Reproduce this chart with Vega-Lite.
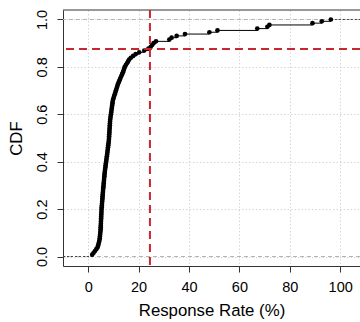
{
  "$schema": "https://vega.github.io/schema/vega-lite/v6.json",
  "width": 297,
  "height": 256,
  "autosize": {"type": "none"},
  "padding": {"left": 63, "top": 10, "right": 0, "bottom": 56},
  "background": "white",
  "config": {
    "view": {"stroke": null},
    "font": "Liberation Sans",
    "axis": {
      "labelFont": "Liberation Sans",
      "titleFont": "Liberation Sans",
      "labelColor": "black",
      "titleColor": "black",
      "titleFontWeight": "normal",
      "domainColor": "#333333",
      "tickColor": "#333333",
      "tickSize": 6,
      "labelFontSize": 14.5,
      "titleFontSize": 16.8,
      "gridColor": "#d6d6d6",
      "gridDash": [1.5, 2]
    }
  },
  "datasets": {
    "ecdf": [
      {"x": 1.58, "p": 0.0077}, {"x": 2.16, "p": 0.0154}, {"x": 2.70, "p": 0.0231}, {"x": 3.20, "p": 0.0308}, {"x": 3.70, "p": 0.0385},
      {"x": 3.94, "p": 0.0462}, {"x": 4.12, "p": 0.0538}, {"x": 4.30, "p": 0.0615}, {"x": 4.48, "p": 0.0692}, {"x": 4.57, "p": 0.0769},
      {"x": 4.65, "p": 0.0846}, {"x": 4.72, "p": 0.0923}, {"x": 4.80, "p": 0.1}, {"x": 4.88, "p": 0.1077}, {"x": 4.92, "p": 0.1154},
      {"x": 4.96, "p": 0.1231}, {"x": 4.99, "p": 0.1308}, {"x": 5.03, "p": 0.1385}, {"x": 5.06, "p": 0.1462}, {"x": 5.09, "p": 0.1538},
      {"x": 5.13, "p": 0.1615}, {"x": 5.16, "p": 0.1692}, {"x": 5.20, "p": 0.1769}, {"x": 5.23, "p": 0.1846}, {"x": 5.27, "p": 0.1923},
      {"x": 5.30, "p": 0.2}, {"x": 5.36, "p": 0.2077}, {"x": 5.42, "p": 0.2154}, {"x": 5.47, "p": 0.2231}, {"x": 5.53, "p": 0.2308},
      {"x": 5.59, "p": 0.2385}, {"x": 5.65, "p": 0.2462}, {"x": 5.70, "p": 0.2538}, {"x": 5.76, "p": 0.2615}, {"x": 5.82, "p": 0.2692},
      {"x": 5.88, "p": 0.2769}, {"x": 5.94, "p": 0.2846}, {"x": 6.01, "p": 0.2923}, {"x": 6.08, "p": 0.3}, {"x": 6.14, "p": 0.3077},
      {"x": 6.21, "p": 0.3154}, {"x": 6.28, "p": 0.3231}, {"x": 6.34, "p": 0.3308}, {"x": 6.41, "p": 0.3385}, {"x": 6.48, "p": 0.3462},
      {"x": 6.55, "p": 0.3538}, {"x": 6.62, "p": 0.3615}, {"x": 6.72, "p": 0.3692}, {"x": 6.82, "p": 0.3769}, {"x": 6.92, "p": 0.3846},
      {"x": 7.01, "p": 0.3923}, {"x": 7.11, "p": 0.4}, {"x": 7.21, "p": 0.4077}, {"x": 7.31, "p": 0.4154}, {"x": 7.41, "p": 0.4231},
      {"x": 7.51, "p": 0.4308}, {"x": 7.60, "p": 0.4385}, {"x": 7.69, "p": 0.4462}, {"x": 7.78, "p": 0.4538}, {"x": 7.87, "p": 0.4615},
      {"x": 7.96, "p": 0.4692}, {"x": 8.05, "p": 0.4769}, {"x": 8.14, "p": 0.4846}, {"x": 8.21, "p": 0.4923}, {"x": 8.26, "p": 0.5},
      {"x": 8.30, "p": 0.5077}, {"x": 8.35, "p": 0.5154}, {"x": 8.40, "p": 0.5231}, {"x": 8.44, "p": 0.5308}, {"x": 8.49, "p": 0.5385},
      {"x": 8.53, "p": 0.5462}, {"x": 8.58, "p": 0.5538}, {"x": 8.62, "p": 0.5615}, {"x": 8.67, "p": 0.5692}, {"x": 8.72, "p": 0.5769},
      {"x": 8.82, "p": 0.5846}, {"x": 8.92, "p": 0.5923}, {"x": 9.02, "p": 0.6}, {"x": 9.12, "p": 0.6077}, {"x": 9.22, "p": 0.6154},
      {"x": 9.32, "p": 0.6231}, {"x": 9.42, "p": 0.6308}, {"x": 9.52, "p": 0.6385}, {"x": 9.62, "p": 0.6462}, {"x": 9.72, "p": 0.6538},
      {"x": 9.85, "p": 0.6615}, {"x": 10.08, "p": 0.6692}, {"x": 10.31, "p": 0.6769}, {"x": 10.54, "p": 0.6846}, {"x": 10.77, "p": 0.6923},
      {"x": 11.00, "p": 0.7}, {"x": 11.23, "p": 0.7077}, {"x": 11.46, "p": 0.7154}, {"x": 11.69, "p": 0.7231}, {"x": 11.93, "p": 0.7308},
      {"x": 12.24, "p": 0.7385}, {"x": 12.55, "p": 0.7462}, {"x": 12.85, "p": 0.7538}, {"x": 13.16, "p": 0.7615}, {"x": 13.47, "p": 0.7692},
      {"x": 13.78, "p": 0.7769}, {"x": 14.04, "p": 0.7846}, {"x": 14.27, "p": 0.7923}, {"x": 14.50, "p": 0.8}, {"x": 14.94, "p": 0.8077},
      {"x": 15.38, "p": 0.8154}, {"x": 15.82, "p": 0.8231}, {"x": 16.26, "p": 0.8308}, {"x": 16.91, "p": 0.8385}, {"x": 17.82, "p": 0.8462},
      {"x": 18.83, "p": 0.8538}, {"x": 20.23, "p": 0.8615}, {"x": 22.27, "p": 0.8692}, {"x": 23.88, "p": 0.8769}, {"x": 24.83, "p": 0.8846},
      {"x": 25.39, "p": 0.8923}, {"x": 25.94, "p": 0.9}, {"x": 26.9, "p": 0.9077}, {"x": 32.2, "p": 0.9154}, {"x": 33.1, "p": 0.9231},
      {"x": 35.1, "p": 0.9308}, {"x": 38.4, "p": 0.9385}, {"x": 48.1, "p": 0.9462}, {"x": 51.3, "p": 0.9538}, {"x": 67.1, "p": 0.9615},
      {"x": 71.1, "p": 0.9692}, {"x": 71.9, "p": 0.9769}, {"x": 89.0, "p": 0.9846}, {"x": 92.7, "p": 0.9923}, {"x": 96.3, "p": 1.0}
    ],
    "bounds": [{"h": 0}, {"h": 1}],
    "ext": [{"a": -10, "b": 1.58, "h": 0}, {"a": 96.3, "b": 107.86, "h": 1}],
    "one": [{"k": 1}]
  },
  "layer": [
    {
      "data": {"name": "ecdf"},
      "mark": {"type": "line", "interpolate": "step-after", "color": "black", "strokeWidth": 1},
      "encoding": {
        "x": {
          "field": "x", "type": "quantitative", "title": "Response Rate (%)",
          "scale": {"domain": [-10, 107.86], "nice": false, "zero": false},
          "axis": {
            "title": "Response Rate (%)",
            "values": [0, 20, 40, 60, 80, 100],
            "labelBaseline": "alphabetic",
            "labelPadding": 19.5,
            "titleBaseline": "alphabetic",
            "titleY": 49.5,
            "grid": true
          }
        },
        "y": {
          "field": "p", "type": "quantitative", "title": "CDF",
          "scale": {"domain": [-0.04, 1.04], "nice": false, "zero": false},
          "axis": {
            "title": "CDF",
            "values": [0, 0.2, 0.4, 0.6, 0.8, 1.0],
            "format": ".1f",
            "labelAngle": 270,
            "labelAlign": "center",
            "labelBaseline": "alphabetic",
            "labelPadding": 10.3,
            "titleAngle": 270,
            "titleAlign": "center",
            "titleBaseline": "alphabetic",
            "titleX": -41.3,
            "titleY": 128,
            "grid": true
          }
        }
      }
    },
    {
      "data": {"name": "bounds"},
      "mark": {"type": "rule", "color": "#b3b3b3", "strokeWidth": 1, "strokeDash": [4, 3]},
      "encoding": {
        "y": {"field": "h", "type": "quantitative", "title": "CDF"}
      }
    },
    {
      "data": {"name": "ext"},
      "mark": {"type": "rule", "color": "#444444", "strokeWidth": 1, "strokeDash": [2, 2]},
      "encoding": {
        "x": {"field": "a", "type": "quantitative", "title": "Response Rate (%)"},
        "x2": {"field": "b"},
        "y": {"field": "h", "type": "quantitative", "title": "CDF"}
      }
    },
    {
      "data": {"name": "one"},
      "mark": {"type": "rule", "color": "#333333", "strokeWidth": 1},
      "encoding": {
        "y": {"datum": 1.04, "type": "quantitative"}
      }
    },
    {
      "data": {"name": "ecdf"},
      "mark": {"type": "point", "filled": true, "color": "black", "opacity": 1, "size": 22},
      "encoding": {
        "x": {"field": "x", "type": "quantitative", "title": "Response Rate (%)"},
        "y": {"field": "p", "type": "quantitative", "title": "CDF"}
      }
    },
    {
      "data": {"name": "one"},
      "mark": {"type": "rule", "color": "#c8282d", "strokeWidth": 2, "strokeDash": [8, 5]},
      "encoding": {
        "x": {"datum": 24.5, "type": "quantitative"}
      }
    },
    {
      "data": {"name": "one"},
      "mark": {"type": "rule", "color": "#c8282d", "strokeWidth": 2, "strokeDash": [8, 5]},
      "encoding": {
        "y": {"datum": 0.875, "type": "quantitative"}
      }
    }
  ]
}
